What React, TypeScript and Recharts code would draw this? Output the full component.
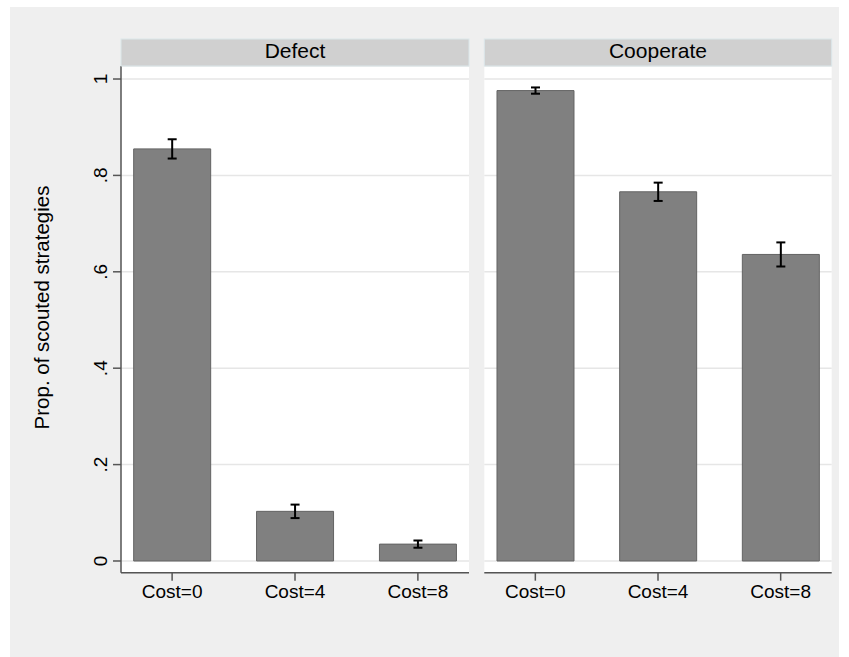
import React from 'react';
import { BarChart, Bar, XAxis, YAxis, CartesianGrid, ErrorBar } from 'recharts';

const categories = ['Cost=0', 'Cost=4', 'Cost=8'];
const panelTitles = ['Defect', 'Cooperate'];
const defectValues = [0.855, 0.103, 0.035];
const defectErrors = [0.02, 0.014, 0.0075];
const cooperateValues = [0.976, 0.766, 0.636];
const cooperateErrors = [0.0065, 0.019, 0.025];
const yTicks = [0, 0.2, 0.4, 0.6, 0.8, 1];
const yTickLabels = ['0', '.2', '.4', '.6', '.8', '1'];
const yTitle = 'Prop. of scouted strategies';

const FONT = '"Liberation Sans", Arial, Helvetica, sans-serif';
const W = 849;
const H = 657;
const PLOT_TOP = 66;
const PLOT_BOTTOM = 572.7;
const LEFT_X0 = 121;
const LEFT_X1 = 469;
const RIGHT_X0 = 484.3;
const RIGHT_X1 = 831.7;
const Y_DOMAIN: [number, number] = [-0.0243, 1.027];
const X_DOMAIN: [number, number] = [-0.416, 2.416];
const AXIS_COLOR = '#555555';

const makeData = (vals: number[], errs: number[]) =>
  vals.map((v, i) => ({ x: i, v, e: errs[i] }));

const defectData = makeData(defectValues, defectErrors);
const cooperateData = makeData(cooperateValues, cooperateErrors);

const XTick = (props: any) => {
  const { x, y, payload } = props;
  return (
    <text x={x} y={y} dy={15.3} textAnchor="middle" fontSize={19} fontFamily={FONT} fill="#000">
      {categories[payload.value]}
    </text>
  );
};

const YTick = (props: any) => {
  const { y, payload } = props;
  const idx = yTicks.indexOf(payload.value);
  const bx = 107;
  return (
    <text
      x={bx}
      y={y}
      textAnchor="middle"
      fontSize={19}
      fontFamily={FONT}
      fill="#000"
      transform={`rotate(-90, ${bx}, ${y})`}
    >
      {idx >= 0 ? yTickLabels[idx] : payload.value}
    </text>
  );
};

const Panel = ({ data, x0, x1, showY }: { data: any[]; x0: number; x1: number; showY: boolean }) => {
  const xAxisH = 30;
  const yAxisW = 60;
  const margin = {
    top: PLOT_TOP,
    left: showY ? x0 - yAxisW : x0,
    right: W - x1,
    bottom: H - PLOT_BOTTOM - xAxisH,
  };
  return (
    <div style={{ position: 'absolute', left: 0, top: 0, width: W, height: H }}>
      <BarChart width={W} height={H} data={data} margin={margin}>
        <CartesianGrid vertical={false} stroke="#e6e6e6" strokeWidth={1.5} fill="#ffffff" />
        <XAxis
          dataKey="x"
          type="number"
          domain={X_DOMAIN}
          ticks={[0, 1, 2]}
          allowDataOverflow
          height={xAxisH}
          tick={<XTick />}
          tickSize={8}
          tickMargin={2}
          axisLine={{ stroke: AXIS_COLOR, strokeWidth: 1.5 }}
          tickLine={{ stroke: AXIS_COLOR, strokeWidth: 1.5 }}
        />
        <YAxis
          type="number"
          domain={Y_DOMAIN}
          ticks={yTicks}
          allowDataOverflow
          width={showY ? yAxisW : 0}
          hide={!showY}
          tick={<YTick />}
          tickSize={8}
          axisLine={{ stroke: AXIS_COLOR, strokeWidth: 1.5 }}
          tickLine={{ stroke: AXIS_COLOR, strokeWidth: 1.5 }}
        />
        <Bar dataKey="v" fill="#808080" stroke="#636363" strokeWidth={1} barSize={77} isAnimationActive={false}>
          <ErrorBar dataKey="e" direction="y" width={4.5} stroke="#000000" strokeWidth={2} />
        </Bar>
      </BarChart>
    </div>
  );
};

const Header = ({ x0, x1, title }: { x0: number; x1: number; title: string }) => (
  <g>
    <rect x={x0} y={39} width={x1 - x0} height={PLOT_TOP - 39} fill="#d0d0d0" stroke="#dbe7ea" strokeWidth={1} />
    <text x={(x0 + x1) / 2} y={57.5} textAnchor="middle" fontSize={21} fontFamily={FONT} fill="#000">
      {title}
    </text>
  </g>
);

export default function App() {
  return (
    <div style={{ position: 'absolute', left: 0, top: 0, width: W, height: H, background: '#ffffff', overflow: 'hidden' }}>
      <div style={{ position: 'absolute', left: 10, top: 7, width: 829, height: 650, background: '#efefef' }} />
      <Panel data={defectData} x0={LEFT_X0} x1={LEFT_X1} showY={true} />
      <Panel data={cooperateData} x0={RIGHT_X0} x1={RIGHT_X1} showY={false} />
      <svg width={W} height={H} style={{ position: 'absolute', left: 0, top: 0, pointerEvents: 'none' }}>
        <Header x0={LEFT_X0} x1={LEFT_X1} title={panelTitles[0]} />
        <Header x0={RIGHT_X0} x1={RIGHT_X1} title={panelTitles[1]} />
        <text
          x={49}
          y={307.5}
          textAnchor="middle"
          fontSize={20.5}
          fontFamily={FONT}
          fill="#000"
          transform="rotate(-90, 49, 307.5)"
        >
          {yTitle}
        </text>
      </svg>
    </div>
  );
}
